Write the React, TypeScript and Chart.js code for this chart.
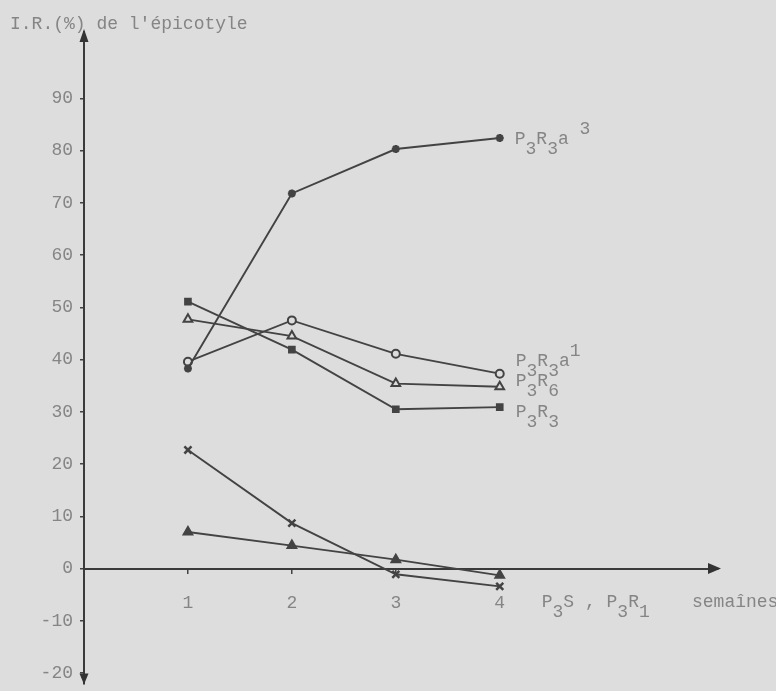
import React, { useEffect, useRef } from "react";
import { Chart, registerables } from "chart.js";

Chart.register(...registerables);

// ---- data ----
const weeks = [1, 2, 3, 4];
const serP3R3a3 = [38.3, 71.8, 80.3, 82.4];
const serP3R3a1 = [39.6, 47.5, 41.1, 37.3];
const serP3R6 = [47.7, 44.5, 35.4, 34.8];
const serP3R3 = [51.1, 41.9, 30.5, 30.9];
const serP3S = [22.7, 8.7, -1.1, -3.4];
const serP3R1 = [7.0, 4.4, 1.7, -1.3];

const xTicks = [1, 2, 3, 4];
const yTicks = [-20, -10, 0, 10, 20, 30, 40, 50, 60, 70, 80, 90];
const yTickLabels = ["-20", "-10", "0", "10", "20", "30", "40", "50", "60", "70", "80", "90"];

const yTitle = "I.R.(%) de l'épicotyle";
const xTitle = "semaînes";
// "_" = next char subscript, "^" = next char superscript
const seriesNames = ["P_3R_3a ^3", "P_3R_3a^1", "P_3R_6", "P_3R_3"];
const bottomName = "P_3S , P_3R_1";

// ---- styles ----
const BG = "#dddddd";
const INK = "#434343";
const TEXT = "#858585";
const FONT = "Liberation Mono";
const FS = 18;

function drawMarked(ctx: CanvasRenderingContext2D, s: string, x: number, y: number) {
  const adv = ctx.measureText("M").width;
  let i = 0;
  let k = 0;
  while (i < s.length) {
    let dy = 0;
    let ch = s[i];
    if (ch === "_") { dy = 10; i++; ch = s[i]; }
    else if (ch === "^") { dy = -10; i++; ch = s[i]; }
    ctx.fillText(ch, x + k * adv, y + dy);
    k++;
    i++;
  }
}

const labelOffsets = [
  { dx: 15, dy: 1 },
  { dx: 16, dy: -12 },
  { dx: 16, dy: -6 },
  { dx: 16, dy: 5 },
];

const annotPlugin = {
  id: "annot",
  afterDraw(chart: any) {
    const ctx = chart.ctx as CanvasRenderingContext2D;
    const { left, right, top, bottom } = chart.chartArea;
    const xs = chart.scales.x;
    const ys = chart.scales.y;
    const y0 = ys.getPixelForValue(0);
    ctx.save();
    // arrows
    ctx.fillStyle = "#333";
    ctx.beginPath();
    ctx.moveTo(left, top - 3);
    ctx.lineTo(left - 4.5, top + 10);
    ctx.lineTo(left + 4.5, top + 10);
    ctx.closePath();
    ctx.fill();
    ctx.beginPath();
    ctx.moveTo(left, bottom + 1);
    ctx.lineTo(left - 4.5, bottom - 10);
    ctx.lineTo(left + 4.5, bottom - 10);
    ctx.closePath();
    ctx.fill();
    ctx.beginPath();
    ctx.moveTo(right + 3, y0);
    ctx.lineTo(right - 10, y0 - 5.5);
    ctx.lineTo(right - 10, y0 + 5.5);
    ctx.closePath();
    ctx.fill();

    ctx.font = `${FS}px "${FONT}"`;
    ctx.fillStyle = TEXT;
    ctx.textAlign = "left";
    ctx.textBaseline = "middle";
    // y title
    ctx.fillText(yTitle, 10, 24);
    // x title
    ctx.fillText(xTitle, right - 26, y0 + 34);
    // bottom series names
    drawMarked(ctx, bottomName, xs.getPixelForValue(weeks[3]) + 42, y0 + 34);
    // series labels
    for (let i = 0; i < seriesNames.length; i++) {
      const meta = chart.getDatasetMeta(i);
      const pt = meta.data[meta.data.length - 1];
      drawMarked(ctx, seriesNames[i], pt.x + labelOffsets[i].dx, pt.y + labelOffsets[i].dy);
    }
    ctx.restore();
  },
};

function mk(values: number[], style: string, filled: boolean, radius: number, bw = 2) {
  return {
    data: weeks.map((w, i) => ({ x: w, y: values[i] })),
    borderColor: INK,
    borderWidth: 1.9,
    pointStyle: style,
    pointRadius: radius,
    pointBorderWidth: bw,
    pointBorderColor: INK,
    pointBackgroundColor: filled ? INK : BG,
    tension: 0,
    fill: false,
    clip: false as any,
  };
}

function zeroPad(s: any) {
  s.paddingLeft = 0;
  s.paddingRight = 0;
  s.paddingTop = 0;
  s.paddingBottom = 0;
}

export default function App() {
  const ref = useRef<HTMLCanvasElement>(null);
  useEffect(() => {
    if (!ref.current) return;
    const chart = new Chart(ref.current, {
      type: "line",
      data: {
        datasets: [
          mk(serP3R3a3, "star", true, 4, 2.5),
          mk(serP3R3a1, "circle", false, 4),
          mk(serP3R6, "triangle", false, 5),
          mk(serP3R3, "rect", true, 4),
          mk(serP3S, "crossRot", false, 5, 2.5),
          mk(serP3R1, "triangle", true, 5),
        ] as any,
      },
      options: {
        animation: false,
        responsive: false,
        devicePixelRatio: 1,
        layout: { padding: { top: 32, left: 0, right: 58, bottom: 1 } },
        plugins: { legend: { display: false }, tooltip: { enabled: false }, title: { display: false } },
        scales: {
          x: {
            type: "linear",
            min: 0,
            max: 6.1,
            position: { y: 0 } as any,
            afterBuildTicks: (s: any) => { s.ticks = xTicks.map((v) => ({ value: v })); },
            afterFit: zeroPad,
            grid: { drawOnChartArea: false, drawTicks: true, tickLength: 4, color: INK, lineWidth: 1.5 },
            border: { display: true, color: "#3a3a3a", width: 2 },
            ticks: {
              color: TEXT,
              font: { family: FONT, size: FS },
              padding: 20,
              maxRotation: 0,
              autoSkip: false,
              callback: (v: any) => String(v),
            },
          },
          y: {
            type: "linear",
            min: -22,
            max: 102.7,
            position: "left",
            afterBuildTicks: (s: any) => { s.ticks = yTicks.map((v) => ({ value: v })); },
            afterFit: (s: any) => { s.width = 84; zeroPad(s); },
            grid: { drawOnChartArea: false, drawTicks: true, tickLength: 4, color: INK, lineWidth: 1.5 },
            border: { display: true, color: "#3a3a3a", width: 2 },
            ticks: {
              color: TEXT,
              font: { family: FONT, size: FS },
              padding: 7,
              autoSkip: false,
              callback: (v: any) => {
                const i = yTicks.indexOf(Number(v));
                return i >= 0 ? yTickLabels[i] : "";
              },
            },
          },
        },
      },
      plugins: [annotPlugin],
    });
    return () => chart.destroy();
  }, []);
  return (
    <div style={{ position: "fixed", left: 0, top: 0, width: 776, height: 691, background: BG }}>
      <canvas ref={ref} width={776} height={691} style={{ display: "block", width: 776, height: 691 }} />
    </div>
  );
}
